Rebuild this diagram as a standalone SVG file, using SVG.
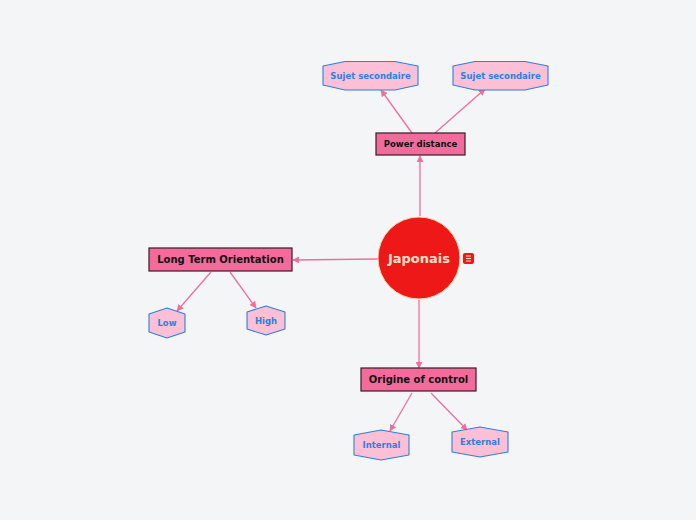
<svg xmlns="http://www.w3.org/2000/svg" width="696" height="520" viewBox="0 0 696 520">
<style>
text{font-family:"DejaVu Sans","Liberation Sans",sans-serif;font-weight:bold;text-anchor:middle;dominant-baseline:central}
.main{fill:#f26b9a;stroke:#3a1a26;stroke-width:1.2}
.main-t{fill:#111;font-size:8.5px}
.big-t{fill:#111;font-size:10px}
.sub{fill:#fbbfd6;stroke:#2f7fe0;stroke-width:1.1;stroke-linejoin:round}
.sub-t{fill:#2f7fe0;font-size:8.5px}
.c{stroke:#f06e9a;stroke-width:1.3;fill:none;marker-end:url(#a)}
</style>
<defs>
<marker id="a" viewBox="0 0 10 10" refX="9" refY="5" markerWidth="7" markerHeight="7" orient="auto" markerUnits="userSpaceOnUse"><path d="M0,0L10,5L0,10z" fill="#f06e9a"/></marker>
</defs>
<rect width="696" height="520" fill="#f4f5f7"/>
<g id="connectors">
<line class="c" x1="420" y1="216" x2="420" y2="156"/>
<line class="c" x1="412" y1="133" x2="381" y2="90"/>
<line class="c" x1="435" y1="133" x2="485" y2="89"/>
<line class="c" x1="378" y1="259" x2="293" y2="260"/>
<line class="c" x1="211" y1="272" x2="177" y2="311"/>
<line class="c" x1="230" y1="272" x2="256" y2="308"/>
<line class="c" x1="419" y1="300" x2="419" y2="368"/>
<line class="c" x1="412" y1="393" x2="390" y2="431"/>
<line class="c" x1="431" y1="393" x2="467" y2="430"/>
</g>
<g id="japonais">
<circle cx="419" cy="258" r="41" fill="#ee1818" stroke="#f7d6a6" stroke-width="1"/>
<text x="419" y="258" fill="#fde3c8" font-size="13px">Japonais</text>
<rect x="463" y="253" width="11" height="11" rx="2" fill="#ee1818"/>
<path d="M466,256h5M466,258.5h5M466,261h5" stroke="#fde3c8" stroke-width="1"/>
</g>
<g id="power-distance">
<rect class="main" x="376" y="133" width="89" height="22"/>
<text class="main-t" x="420.5" y="144">Power distance</text>
</g>
<g id="sujet-1">
<polygon class="sub" points="323,66 345,61.5 395,61.5 418,66 418,85 395,90 345,90 323,85"/>
<text class="sub-t" x="370.5" y="76">Sujet secondaire</text>
</g>
<g id="sujet-2">
<polygon class="sub" points="453,66 475,61.5 525,61.5 548,66 548,85 525,90 475,90 453,85"/>
<text class="sub-t" x="500.5" y="76">Sujet secondaire</text>
</g>
<g id="long-term-orientation">
<rect class="main" x="149" y="248" width="143" height="23"/>
<text class="big-t" x="220.5" y="259.5">Long Term Orientation</text>
</g>
<g id="low">
<polygon class="sub" points="149,314 167,308 185,314 185,332 167,338 149,332"/>
<text class="sub-t" x="167" y="323">Low</text>
</g>
<g id="high">
<polygon class="sub" points="247,312 266,306 285,312 285,329 266,335 247,329"/>
<text class="sub-t" x="266" y="320.5">High</text>
</g>
<g id="origine-of-control">
<rect class="main" x="361" y="368" width="115" height="23"/>
<text class="big-t" x="418.5" y="379.5">Origine of control</text>
</g>
<g id="internal">
<polygon class="sub" points="354,435 381,430 409,435 409,455 381,460 354,455"/>
<text class="sub-t" x="381.5" y="445">Internal</text>
</g>
<g id="external">
<polygon class="sub" points="452,432 480,427 508,432 508,452 480,457 452,452"/>
<text class="sub-t" x="480" y="442">External</text>
</g>
</svg>
